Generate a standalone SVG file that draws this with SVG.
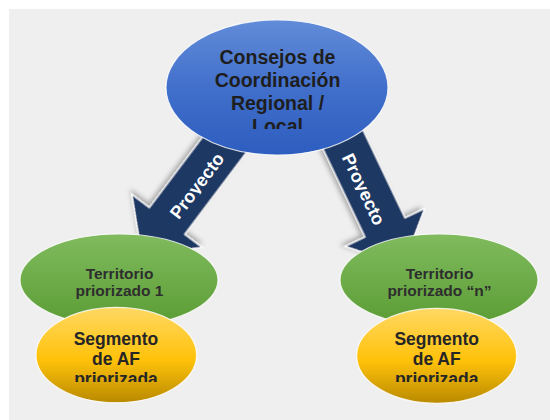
<svg xmlns="http://www.w3.org/2000/svg" width="550" height="420" viewBox="0 0 550 420">
  <defs>
    <linearGradient id="gBlue" x1="0" y1="0" x2="0" y2="1">
      <stop offset="0" stop-color="#628cd8"/>
      <stop offset="0.5" stop-color="#416fcb"/>
      <stop offset="1" stop-color="#2d5dbf"/>
    </linearGradient>
    <linearGradient id="gGreen" x1="0" y1="0" x2="0" y2="1">
      <stop offset="0" stop-color="#80bb5e"/>
      <stop offset="1" stop-color="#5b9c34"/>
    </linearGradient>
    <linearGradient id="gYellow" x1="0" y1="0" x2="0" y2="1">
      <stop offset="0" stop-color="#ffd863"/>
      <stop offset="0.55" stop-color="#ffc20a"/>
      <stop offset="1" stop-color="#b98a00"/>
    </linearGradient>
    <filter id="shadow" x="-20%" y="-20%" width="140%" height="140%">
      <feDropShadow dx="-3" dy="3" stdDeviation="2.5" flood-color="#000" flood-opacity="0.3"/>
    </filter>
    <clipPath id="clipTop"><rect x="150" y="20" width="250" height="109"/></clipPath>
    <clipPath id="clipSeg1"><rect x="30" y="300" width="180" height="82"/></clipPath>
    <clipPath id="clipSegN"><rect x="350" y="300" width="180" height="82"/></clipPath>
    <clipPath id="clipLbl"><rect x="-60" y="-20" width="120" height="21.5"/></clipPath>
    <style>
      .arrow { fill: #1f3864; stroke: #ffffff; stroke-width: 1.2; filter: url(#shadow); }
      .lbl { font-family: "Liberation Sans", Arial, sans-serif; font-weight: bold; font-size: 18px; fill: #ffffff; text-anchor: middle; }
      .t { font-family: "Liberation Sans", Arial, sans-serif; font-weight: bold; text-anchor: middle; }
      .big { font-size: 19.5px; fill: #1e1e1e; }
      .mid { font-size: 15.5px; fill: #2e2e2e; }
      .seg { font-size: 17.5px; fill: #262626; }
      .node { stroke: #ffffff; stroke-width: 1.2; stroke-opacity: 0.8; }
    </style>
  </defs>

  <rect x="0" y="0" width="550" height="420" fill="#ffffff"/>
  <rect x="9" y="9" width="541" height="411" fill="#efefef"/>

  <g id="connectors">
    <g id="arrow-left">
      <polygon class="arrow" transform="translate(167,221) rotate(127)" points="-135,-22 0,-22 0,-44 42,0 0,44 0,22 -135,22"/>
      <g transform="translate(202,189.5) rotate(-53)" clip-path="url(#clipLbl)">
        <text class="lbl" x="0" y="0">Proyecto</text>
      </g>
    </g>
    <g id="arrow-right">
      <polygon class="arrow" transform="translate(385,227.5) rotate(64.5)" points="-135,-22 0,-22 0,-44 42,0 0,44 0,22 -135,22"/>
      <g transform="translate(358,192) rotate(64.5)" clip-path="url(#clipLbl)">
        <text class="lbl" x="0" y="0">Proyecto</text>
      </g>
    </g>
  </g>

  <g id="node-consejos">
    <ellipse class="node" cx="277" cy="87.5" rx="111" ry="67.5" fill="url(#gBlue)"/>
    <g clip-path="url(#clipTop)">
      <text class="t big" x="277.5" y="64">Consejos de</text>
      <text class="t big" x="277.5" y="87">Coordinación</text>
      <text class="t big" x="277.5" y="110">Regional /</text>
      <text class="t big" x="277.5" y="133">Local</text>
    </g>
  </g>

  <g id="node-territorio-1">
    <ellipse class="node" cx="119" cy="280" rx="99" ry="46" fill="url(#gGreen)"/>
    <text class="t mid" x="119.5" y="278.5">Territorio</text>
    <text class="t mid" x="119.5" y="296">priorizado 1</text>
  </g>

  <g id="node-territorio-n">
    <ellipse class="node" cx="439" cy="280" rx="99" ry="46" fill="url(#gGreen)"/>
    <text class="t mid" x="439.5" y="278.5">Territorio</text>
    <text class="t mid" x="439.5" y="296">priorizado “n”</text>
  </g>

  <g id="node-segmento-1">
    <ellipse class="node" cx="116.3" cy="355" rx="80.3" ry="47.7" fill="url(#gYellow)"/>
    <g clip-path="url(#clipSeg1)">
      <text class="t seg" x="116" y="345">Segmento</text>
      <text class="t seg" x="116" y="365">de AF</text>
      <text class="t seg" x="116" y="385">priorizada</text>
    </g>
  </g>

  <g id="node-segmento-n">
    <ellipse class="node" cx="436.7" cy="355.8" rx="80" ry="47.5" fill="url(#gYellow)"/>
    <g clip-path="url(#clipSegN)">
      <text class="t seg" x="436.7" y="345">Segmento</text>
      <text class="t seg" x="436.7" y="365">de AF</text>
      <text class="t seg" x="436.7" y="385">priorizada</text>
    </g>
  </g>
</svg>
